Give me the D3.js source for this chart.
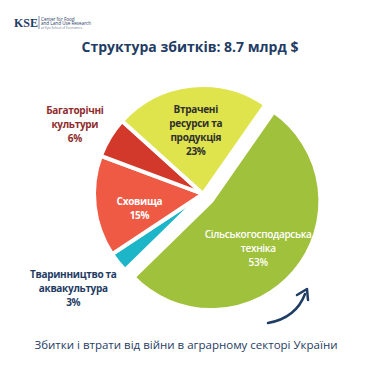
<!DOCTYPE html>
<html>
<head>
<meta charset="utf-8">
<script src="https://cdn.jsdelivr.net/npm/d3@7"></script>
<style>
  body { margin: 0; background: #fff; }
  svg { display: block; font-family: "Open Sans", sans-serif; }
</style>
</head>
<body>
<script>
// Data, clockwise from the top-right
const categories = [
  ["Сільськогосподарська", "техніка"],
  ["Тваринництво та", "аквакультура"],
  ["Сховища"],
  ["Багаторічні", "культури"],
  ["Втрачені", "ресурси та", "продукція"]
];
const shares = [53, 3, 15, 6, 23];
const sliceColors = ["#a0c13c", "#1db6c9", "#ef5a45", "#d3392b", "#dfe34c"];
const labelColors = ["#ffffff", "#1f3c64", "#ffffff", "#8f2c2c", "#2f2f2f"];
const labelOutside = [false, true, false, true, false];

const W = 375, H = 375;
const navy = "#1f3c64";

const svg = d3.select("body")
  .append("svg")
  .attr("width", W)
  .attr("height", H);

// logo
const logo = svg.append("g").attr("fill", navy);
logo.append("text")
  .attr("x", 14).attr("y", 27)
  .style("font-family", "'Liberation Serif', serif")
  .style("font-size", "12px")
  .style("font-weight", 700)
  .text("KSE");
logo.append("line")
  .attr("x1", 39).attr("x2", 39).attr("y1", 16).attr("y2", 29)
  .attr("stroke", navy).attr("stroke-width", 0.6);
logo.append("text").attr("x", 41).attr("y", 20.5).style("font-size", "4.6px").text("Center for Food");
logo.append("text").attr("x", 41).attr("y", 25).style("font-size", "4.6px").text("and Land Use Research");
logo.append("text").attr("x", 41).attr("y", 29).style("font-size", "3.2px").attr("opacity", 0.7).text("at Kyiv School of Economics");

// title
svg.append("text")
  .attr("x", 190).attr("y", 52)
  .attr("text-anchor", "middle")
  .attr("fill", navy)
  .style("font-size", "14px")
  .style("font-weight", 700)
  .text("Структура збитків: 8.7 млрд $");

// pie
const cx = 203, cy = 194, r = 109;
const startA = 34.9 * Math.PI / 180;

const pie = d3.pie()
  .sort(null)
  .startAngle(startA)
  .endAngle(startA + 2 * Math.PI)
  .value(d => d);

const arcs = pie(shares);
const arc = d3.arc().innerRadius(0).outerRadius(r);
const inLabel = d3.arc().innerRadius(64).outerRadius(64);
const outLabel = d3.arc().innerRadius(150).outerRadius(150);
// small hand nudges so labels sit where the designer put them
const nudge = [[-2, 5], [-13, 0], [0, 7], [0, 8], [0, 0]];

// the big slice is pulled out a little
function offset(d, i) {
  if (i !== 0) return [0, 0];
  const a = (d.startAngle + d.endAngle) / 2;
  return [11 * Math.sin(a), -11 * Math.cos(a)];
}

const g = svg.append("g").attr("transform", `translate(${cx},${cy})`);

g.selectAll(".slice")
  .data(arcs)
  .enter()
  .append("path")
  .attr("class", "slice")
  .attr("transform", (d, i) => `translate(${offset(d, i)})`)
  .attr("d", arc)
  .attr("fill", (d, i) => sliceColors[i])
  .attr("stroke", "#fff")
  .attr("stroke-width", 4)
  .attr("stroke-linejoin", "round");

const labels = g.selectAll(".label")
  .data(arcs)
  .enter()
  .append("text")
  .attr("class", "label")
  .attr("text-anchor", "middle")
  .attr("fill", (d, i) => labelColors[i])
  .style("font-size", "10px")
  .style("letter-spacing", "-0.3px")
  .style("font-weight", (d, i) => i === 0 ? 600 : 700)
  .attr("transform", (d, i) => {
    const c = labelOutside[i] ? outLabel.centroid(d) : inLabel.centroid(d);
    const o = offset(d, i);
    return `translate(${c[0] + o[0] + nudge[i][0]},${c[1] + o[1] + nudge[i][1]})`;
  });

labels.each(function(d, i) {
  const lines = categories[i].concat([shares[i] + "%"]);
  const t = d3.select(this);
  const lh = 14;
  const y0 = -((lines.length - 1) * lh) / 2 + 4;
  lines.forEach((s, k) => {
    t.append("tspan")
      .attr("x", 0)
      .attr("y", y0 + k * lh)
      .text(s);
  });
});

// arrow
const ap = d3.path();
ap.moveTo(268, 323);
ap.quadraticCurveTo(296, 318, 305, 294);
svg.append("path")
  .attr("d", ap.toString())
  .attr("fill", "none")
  .attr("stroke", navy)
  .attr("stroke-width", 2.5)
  .attr("stroke-linecap", "round");
svg.append("path")
  .attr("d", "M297,295 L307,289 L308,300")
  .attr("fill", "none")
  .attr("stroke", navy)
  .attr("stroke-width", 2.5)
  .attr("stroke-linecap", "round")
  .attr("stroke-linejoin", "round");

// subtitle
svg.append("text")
  .attr("x", 186).attr("y", 349)
  .attr("text-anchor", "middle")
  .attr("fill", navy)
  .style("font-size", "11.5px")
  .text("Збитки і втрати від війни в аграрному секторі України");
</script>
</body>
</html>
